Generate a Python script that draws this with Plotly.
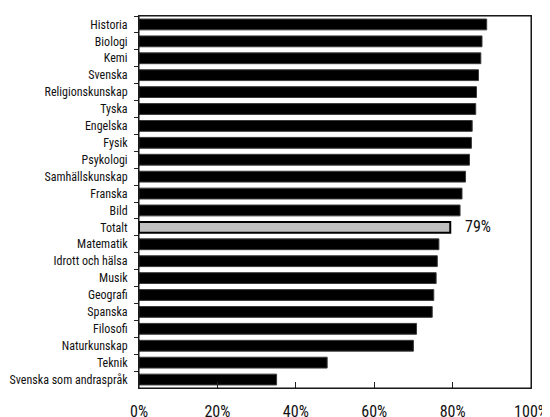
import plotly.graph_objects as go

subjects = ["Historia", "Biologi", "Kemi", "Svenska", "Religionskunskap", "Tyska",
            "Engelska", "Fysik", "Psykologi", "Samhällskunskap", "Franska", "Bild",
            "Totalt", "Matematik", "Idrott och hälsa", "Musik", "Geografi", "Spanska",
            "Filosofi", "Naturkunskap", "Teknik", "Svenska som andraspråk"]
values = [88.7, 87.5, 87.2, 86.6, 86.1, 85.9, 85.0, 84.8, 84.3, 83.3, 82.4, 81.9,
          79.4, 76.5, 76.1, 75.8, 75.2, 74.8, 70.8, 70.0, 48.0, 35.1]
highlight = "Totalt"
x_ticks = [0, 20, 40, 60, 80, 100]
x_ticktext = [f"{v}%" for v in x_ticks]

FONT = "Roboto Condensed"

fill = ["#c0c0c0" if s == highlight else "#000000" for s in subjects]
edge = ["#000000" if s == highlight else "#3a3a3a" for s in subjects]
edge_w = [2 if s == highlight else 1 for s in subjects]

fig = go.Figure()
fig.add_trace(go.Bar(
    x=values, y=subjects, orientation="h",
    marker=dict(color=fill, line=dict(color=edge, width=edge_w)),
    width=0.64, hoverinfo="skip", showlegend=False,
))

hv = values[subjects.index(highlight)]
fig.add_annotation(x=hv, y=highlight, text=f"{round(hv)}%", showarrow=False,
                   xanchor="left", xshift=13, yshift=1,
                   font=dict(family=FONT, size=16, color="#111"))

# plot frame
fig.add_shape(type="rect", xref="paper", yref="paper", x0=0, x1=1, y0=0, y1=1,
              line=dict(color="#111111", width=1), fillcolor="rgba(0,0,0,0)", layer="above")

fig.update_layout(
    template="none",
    width=542, height=409,
    margin=dict(l=131, r=19, t=8, b=29),
    paper_bgcolor="white", plot_bgcolor="white",
    font=dict(family=FONT, color="#111"),
    bargap=0.36,
    xaxis=dict(range=[0, 100], tickmode="array", tickvals=x_ticks, ticktext=x_ticktext,
               ticks="inside", ticklen=6, tickcolor="#222", tickwidth=1,
               showgrid=False, zeroline=False, automargin=False,
               showline=True, linecolor="#222", linewidth=1, mirror=True,
               ticklabeloverflow="allow", ticklabelstandoff=9,
               tickfont=dict(family=FONT, size=16, color="#111")),
    yaxis=dict(categoryorder="array", categoryarray=subjects, autorange="reversed",
               tickson="boundaries", ticks="outside", ticklen=4,
               tickcolor="#222", tickwidth=1,
               showgrid=False, zeroline=False, automargin=False,
               showline=True, linecolor="#222", linewidth=1, mirror=True,
               ticklabelstandoff=8,
               tickfont=dict(family=FONT, size=12, color="#111")),
)

fig.write_html("out.html")
